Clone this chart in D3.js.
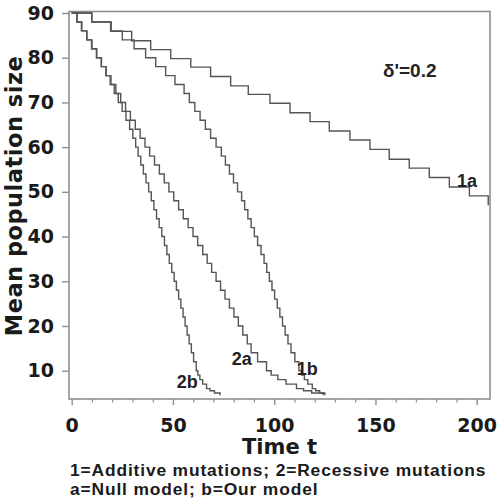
<!DOCTYPE html>
<html>
<head>
<meta charset="utf-8">
<script src="https://cdn.jsdelivr.net/npm/d3@7"></script>
<style>
  body { margin: 0; background: #fff; }
</style>
</head>
<body>
<div id="chart"></div>
<script>
// axis ticks
const timeTicks = [0, 50, 100, 150, 200];
const minorTimeTicks = [10, 20, 30, 40, 60, 70, 80, 90, 110, 120, 130, 140, 160, 170, 180, 190];
const sizeTicks = [10, 20, 30, 40, 50, 60, 70, 80, 90];

// 1a: additive, null model
const t1a = [0, 9.9, 19.5, 29.6, 39.0, 48.9, 58.8, 68.6, 78.5, 87.2, 97.9, 107.8, 117.7, 127.2, 137.4, 147.3, 156.8, 166.7, 176.6, 186.5, 196.4, 205.7];
const n1a = [90, 88.0, 85.9, 83.8, 81.8, 79.8, 77.9, 75.8, 73.7, 71.8, 69.8, 67.7, 65.7, 63.6, 61.6, 59.5, 57.3, 55.3, 53.2, 51.1, 49.1, 47.0];

// shared population levels for the faster curves
const levels = [90, 88, 86, 84, 82, 80, 78, 76, 74, 72, 70, 68, 66, 64, 62, 60, 58, 56, 54, 52, 50,
  48, 46, 44, 42, 40, 38, 36, 34, 32, 30, 28, 26, 24, 22, 20, 18, 16, 14, 12, 10, 9, 8, 7, 6, 5.5, 5, 4.5];

// 1b: additive, our model
const t1b = [0, 9.9, 19.2, 25.0, 30.8, 36.5, 41.5, 46.4, 51.0, 55.5, 58.1, 60.8, 63.4, 66.0, 68.6, 71.3,
  73.9, 75.9, 77.9, 79.9, 81.9, 83.9, 85.4, 87.0, 88.6, 90.2, 91.8, 93.5, 95.0, 96.3, 97.6, 98.9, 100.2,
  101.5, 102.8, 104.1, 105.4, 106.8, 108.3, 110.2, 112.2, 113.5, 114.9, 116.6, 118.8, 120.5, 122.5, 125.0];

// 2a: recessive, null model
const t2a = [0, 2.6, 5.0, 7.4, 9.8, 12.2, 14.6, 17.0, 19.4, 21.8, 24.2, 26.6, 29.0, 31.4, 33.8, 36.2,
  38.5, 40.9, 43.3, 45.7, 48.0, 50.4, 52.8, 55.1, 57.5, 59.9, 62.2, 64.7, 66.9, 69.1, 71.3, 73.5, 75.7,
  77.9, 80.1, 82.3, 84.5, 86.7, 88.6, 91.8, 96.2, 98.5, 101.8, 105.8, 111.0, 114.5, 118.5, 124.2];

// 2b: recessive, our model
const t2b = [0, 2.6, 4.8, 7.5, 10.0, 12.4, 14.7, 16.9, 19.0, 21.0, 23.0, 24.9, 26.8, 28.6, 30.2, 31.6,
  32.8, 34.1, 35.4, 36.7, 38.0, 39.3, 40.6, 41.9, 43.2, 44.5, 45.8, 47.0, 48.2, 49.4, 50.6, 51.7, 52.8,
  53.9, 55.0, 56.0, 57.0, 58.0, 59.1, 60.2, 61.5, 62.3, 63.3, 64.7, 66.6, 68.3, 70.5, 73.3];

const labelText = ['1a', '1b', '2a', '2b'];
const labelT = [190.3, 111.1, 79.0, 51.9];
const labelN = [51.1, 9.0, 11.25, 6.1];

const width = 499, height = 498;
const frame = { left: 69, right: 490, top: 11.5, bottom: 399 };

const svg = d3.select('#chart').append('svg')
  .attr('width', width)
  .attr('height', height);

const x = d3.scaleLinear().domain([0, 200]).range([71.7, 476.7]);
const y = d3.scaleLinear().domain([10, 90]).range([370.7, 13]);

// plot frame
svg.append('rect')
  .attr('x', frame.left).attr('y', frame.top)
  .attr('width', frame.right - frame.left)
  .attr('height', frame.bottom - frame.top)
  .attr('fill', 'none')
  .attr('stroke', '#8f8f8f')
  .attr('stroke-width', 1.6);

// x axis, major + minor
const xAxis = svg.append('g')
  .attr('transform', `translate(0,${frame.bottom})`)
  .call(d3.axisBottom(x).tickValues(timeTicks).tickSize(6).tickPadding(14));
svg.append('g')
  .attr('transform', `translate(0,${frame.bottom})`)
  .call(d3.axisBottom(x).tickValues(minorTimeTicks).tickSize(3.5).tickFormat(''))
  .call(g => g.select('.domain').remove())
  .selectAll('line').attr('stroke', '#8f8f8f').attr('stroke-width', 1.2);
xAxis.select('.domain').remove();
xAxis.selectAll('line').attr('stroke', '#8f8f8f').attr('stroke-width', 1.4);
xAxis.selectAll('text')
  .attr('font-family', 'DejaVu Sans')
  .attr('font-weight', 'bold')
  .attr('font-size', 19)
  .attr('fill', '#1a1a1a');

// y axis
const yAxis = svg.append('g')
  .attr('transform', `translate(${frame.left},0)`)
  .call(d3.axisLeft(y).tickValues(sizeTicks).tickSize(7).tickPadding(8));
yAxis.select('.domain').remove();
yAxis.selectAll('line').attr('stroke', '#8f8f8f').attr('stroke-width', 1.4);
yAxis.selectAll('text')
  .attr('font-family', 'DejaVu Sans')
  .attr('font-weight', 'bold')
  .attr('font-size', 19)
  .attr('fill', '#1a1a1a');

// step curves
const line = d3.line()
  .x(d => x(d[0]))
  .y(d => y(d[1]))
  .curve(d3.curveStepAfter);

const series = [
  d3.zip(t1a, n1a),
  d3.zip(t1b, levels),
  d3.zip(t2a, levels),
  d3.zip(t2b, levels)
];

svg.append('g').selectAll('path')
  .data(series)
  .enter().append('path')
  .attr('d', line)
  .attr('fill', 'none')
  .attr('stroke', '#555')
  .attr('stroke-width', 1.4);

// curve labels
svg.append('g').selectAll('text')
  .data(labelText)
  .enter().append('text')
  .attr('x', (d, i) => x(labelT[i]))
  .attr('y', (d, i) => y(labelN[i]))
  .attr('font-family', 'Liberation Sans, Arial, sans-serif')
  .attr('font-weight', 'bold')
  .attr('font-size', 18)
  .attr('fill', '#222')
  .text(d => d);

svg.append('text')
  .attr('x', x(153.7))
  .attr('y', y(75.7))
  .attr('font-family', 'Liberation Sans, Arial, sans-serif')
  .attr('font-weight', 'bold')
  .attr('font-size', 19)
  .attr('fill', '#222')
  .text("δ'=0.2");

// axis titles
svg.append('text')
  .attr('x', (frame.left + frame.right) / 2)
  .attr('y', 454)
  .attr('text-anchor', 'middle')
  .attr('font-family', 'DejaVu Sans')
  .attr('font-weight', 'bold')
  .attr('font-size', 21)
  .attr('fill', '#1a1a1a')
  .text('Time t');

svg.append('text')
  .attr('transform', 'translate(21.5,196) rotate(-90)')
  .attr('text-anchor', 'middle')
  .attr('font-family', 'DejaVu Sans')
  .attr('font-weight', 'bold')
  .attr('font-size', 22.5)
  .attr('letter-spacing', 0.5)
  .attr('fill', '#1a1a1a')
  .text('Mean population size');

// footnote
const notes = ['1=Additive mutations; 2=Recessive mutations', 'a=Null model; b=Our model'];
svg.append('g').selectAll('text')
  .data(notes)
  .enter().append('text')
  .attr('x', 70)
  .attr('y', (d, i) => 475.5 + i * 19.5)
  .attr('font-family', 'Liberation Sans, Arial, sans-serif')
  .attr('font-weight', 'bold')
  .attr('font-size', 17.4)
  .attr('letter-spacing', 0.85)
  .attr('fill', '#1a1a1a')
  .text(d => d);
</script>
</body>
</html>
